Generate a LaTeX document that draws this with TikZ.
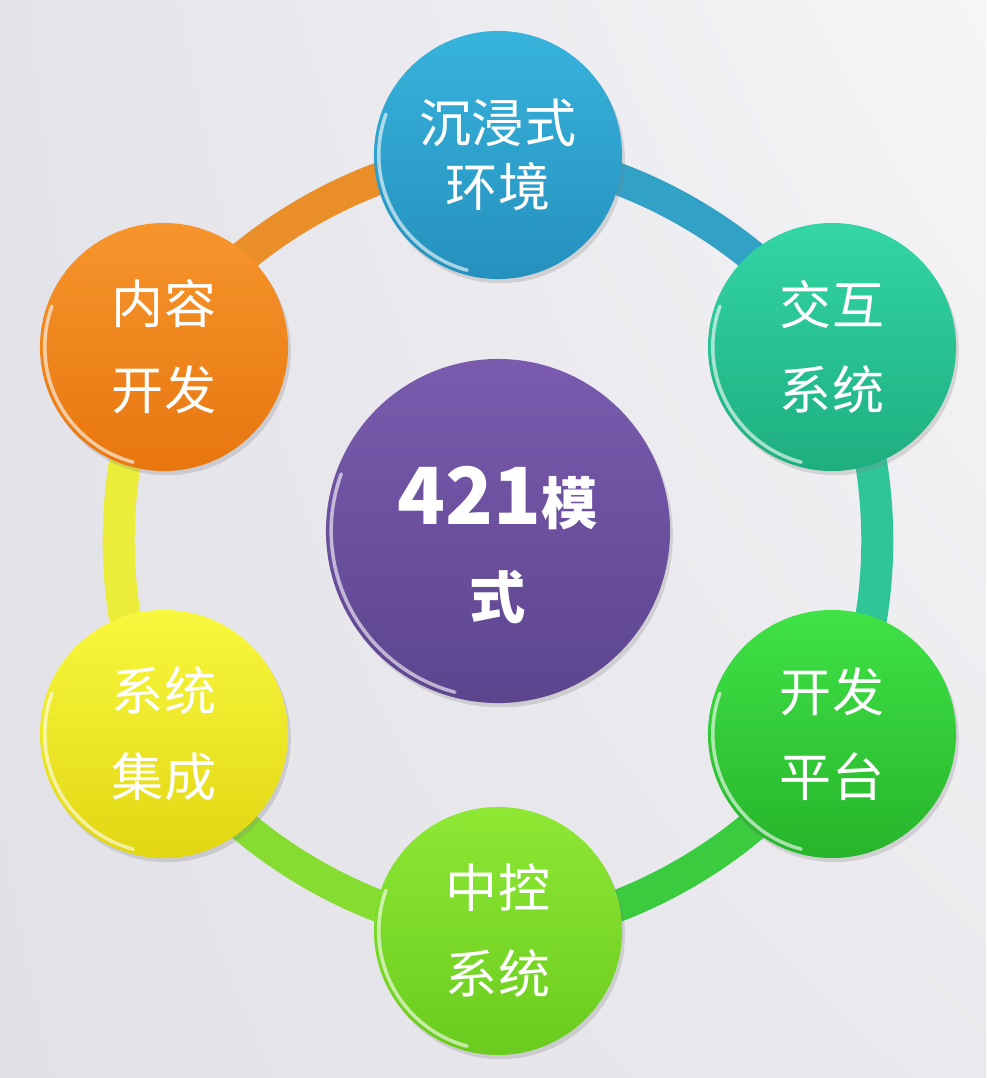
\documentclass[tikz,border=0pt]{standalone}
\usepackage{fontspec}
\newfontfamily\cjk{Noto Sans CJK SC}
\usetikzlibrary{shadows,shadings,calc}
\pgfdeclarelayer{back}
\pgfdeclarelayer{ring}
\pgfsetlayers{back,ring,main}

\definecolor{bgUL}{HTML}{E3E3E9}
\definecolor{bgUR}{HTML}{F6F6F8}
\definecolor{bgLL}{HTML}{E1E1E7}
\definecolor{bgLR}{HTML}{EAEAEE}
\definecolor{cyanA}{HTML}{37B3DC}
\definecolor{cyanB}{HTML}{2590BE}
\definecolor{tealA}{HTML}{33D6A4}
\definecolor{tealB}{HTML}{1EAE80}
\definecolor{greenA}{HTML}{40E246}
\definecolor{greenB}{HTML}{26B42B}
\definecolor{limeA}{HTML}{8EE834}
\definecolor{limeB}{HTML}{6ACB1E}
\definecolor{yellowA}{HTML}{F8F83E}
\definecolor{yellowB}{HTML}{E2D612}
\definecolor{orangeA}{HTML}{F6952C}
\definecolor{orangeB}{HTML}{E8760F}
\definecolor{purpleA}{HTML}{7A5BAE}
\definecolor{purpleB}{HTML}{5D458E}

\tikzset{
  gloss/.style={path picture={
    \draw[white,opacity=.6,line width=2.5pt,line cap=round]
      ($(path picture bounding box.center)+(160:#1)$) arc[start angle=160,end angle=255,radius=#1];}},
  disc/.style={circle,minimum size=6.2cm,inner sep=0pt,align=center,text=white,
    font=\cjk\fontsize{37}{61}\selectfont,
    drop shadow={shadow xshift=2pt,shadow yshift=-3pt,opacity=.25},gloss=2.98cm},
  hubdisc/.style={disc,minimum size=8.6cm,gloss=4.17cm,text height=128pt,
    font=\cjk\bfseries\fontsize{40}{67}\selectfont},
  band/.style={line width=0.8cm,line cap=butt},
}

\begin{document}
\begin{tikzpicture}[x=0.025cm,y=0.025cm]
    \useasboundingbox (0,0) rectangle (986,-1078);
    \begin{pgfonlayer}{back}
      \shade[upper left=bgUL,upper right=bgUR,lower left=bgLL,lower right=bgLR] (0,0) rectangle (986,-1078);
    \end{pgfonlayer}
    \node[hubdisc,top color=purpleA,bottom color=purpleB] (hub) at (498,-531) {{\fontsize{56}{67}\selectfont 421}模\\式};
    \node[disc,top color=cyanA,bottom color=cyanB,font=\cjk\fontsize{37}{45}\selectfont] (immersive) at (498,-155) {沉浸式\\环境};
    \node[disc,top color=tealA,bottom color=tealB] (interact) at (832,-347) {交互\\系统};
    \node[disc,top color=greenA,bottom color=greenB] (devplat) at (832,-734) {开发\\平台};
    \node[disc,top color=limeA,bottom color=limeB] (control) at (498,-931) {中控\\系统};
    \node[disc,top color=yellowA,bottom color=yellowB] (integ) at (164,-734) {系统\\集成};
    \node[disc,top color=orangeA,bottom color=orangeB] (content) at (164,-347) {内容\\开发};
    \begin{pgfonlayer}{ring}
      \draw[band,cyanA!90!black] (immersive.center) to[bend left=30,looseness=.8] (interact.center);
      \draw[band,tealA!92!black] (interact.center) to[bend left=30,looseness=.8] (devplat.center);
      \draw[band,greenA!90!black] (devplat.center) to[bend left=30,looseness=.8] (control.center);
      \draw[band,limeA!95!black] (control.center) to[bend left=30,looseness=.8] (integ.center);
      \draw[band,yellowA!95!black] (integ.center) to[bend left=30,looseness=.8] (content.center);
      \draw[band,orangeA!95!black] (content.center) to[bend left=30,looseness=.8] (immersive.center);
    \end{pgfonlayer}
  \end{tikzpicture}
\end{document}
